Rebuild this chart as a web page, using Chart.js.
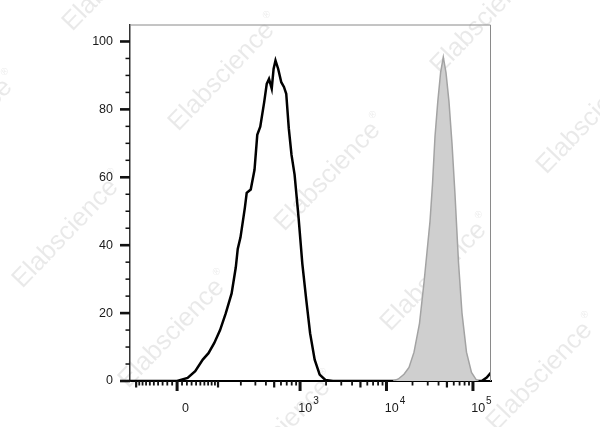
<!DOCTYPE html>
<html>
<head>
<meta charset="utf-8">
<script src="https://cdn.jsdelivr.net/npm/chart.js@4.4.1/dist/chart.umd.min.js"></script>
<style>
  html, body { margin: 0; padding: 0; background: #fff; }
  canvas { display: block; }
</style>
</head>
<body>
<canvas id="histChart" width="600" height="427"></canvas>
<script>
// stained sample (black outline), x = fluorescence intensity, y = % of max
const stainedX = [-122, -60, 0, 2, 21.5, 38, 56, 71, 88, 107, 128, 153, 173,
  183, 198, 224, 236, 264, 293, 316, 343, 382, 409,
  435, 468, 492, 518, 557, 605, 650, 691, 740, 796,
  864, 961, 1063, 1181, 1307, 1477, 1687, 1963, 2403,
  10000, 60000, 126300, 144200, 161700];
const stainedY = [0, 0, 0, 0.1, 0.9, 2.9, 6.3, 8.2, 11.2, 15.0, 19.9, 25.8, 33.5,
  38.9, 42.3, 51.0, 55.4, 56.4, 62.2, 72.5, 74.9, 82.2, 87.5,
  89.0, 86.1, 91.9, 94.4, 91.9, 88.0, 86.6, 84.6, 74.4, 66.6,
  60.8, 48.1, 34.5, 23.8, 14.1, 6.3, 1.9, 0.3, 0,
  0, 0, 0, 1.0, 2.5];

// filled grey peak
const grayX = [12000, 13710, 15950, 18220, 20820, 24100, 27160, 29420, 31870, 34060,
  36400, 39210, 42250, 45400, 48790, 52840, 57230, 61990, 68040, 74680,
  84190, 96170, 108400, 115600];
const grayY = [0, 0.6, 2, 4, 8.5, 17, 29, 38, 47, 58,
  72, 82.3, 90.8, 95.4, 90.8, 82.2, 70, 55, 35, 20,
  8.5, 2.5, 0.5, 0];

// axis ticks
const xMajorTicks = [0, 1000, 10000, 100000];
const xMajorLabels = [["0", ""], ["10", "3"], ["10", "4"], ["10", "5"]];
const xMidTicks = [-100, 100, 500, 5000, 50000];
const xMinorTicks = [-90, -80, -70, -60, -50, -40, -30, -20, -10,
  10, 20, 30, 40, 50, 60, 70, 80, 90,
  200, 300, 400, 600, 700, 800, 900,
  2000, 3000, 4000, 6000, 7000, 8000, 9000,
  20000, 30000, 40000, 60000, 70000, 80000, 90000];
const yLabelStep = 20;
const yMinorStep = 5;

const X_MIN = -122;
const X_MAX = 161700;
const COFACTOR = 75.8;

const FONT = "'Liberation Sans', Arial, sans-serif";

const biex = v => Math.asinh(v / COFACTOR);

class BiexScale extends Chart.Scale {
  determineDataLimits() {
    this.min = this.options.min;
    this.max = this.options.max;
  }
  buildTicks() {
    const all = xMajorTicks.concat(xMidTicks, xMinorTicks)
      .filter(v => v >= this.min && v <= this.max)
      .sort((a, b) => a - b);
    return all.map(v => ({ value: v }));
  }
  configure() {
    super.configure();
    this._t0 = biex(this.min);
    this._t1 = biex(this.max);
  }
  getLabelForValue(v) {
    return String(v);
  }
  getPixelForValue(v) {
    return this.getPixelForDecimal((biex(v) - this._t0) / (this._t1 - this._t0));
  }
  getValueForPixel(p) {
    const t = this._t0 + this.getDecimalForPixel(p) * (this._t1 - this._t0);
    return COFACTOR * Math.sinh(t);
  }
}
BiexScale.id = "biex";
BiexScale.defaults = {};
Chart.register(BiexScale);

const toPoints = (xs, ys) => xs.map((x, i) => ({ x: x, y: ys[i] }));

const watermarkCenters = [
  [119, -27], [-37, 130], [225, 73], [331, 173], [437, 273], [543, 373],
  [487, 16], [593, 116], [69, 230], [175, 330], [281, 430]
];

const watermark = {
  id: "watermark",
  beforeDraw(chart) {
    const ctx = chart.ctx;
    ctx.save();
    ctx.fillStyle = "#fff";
    ctx.fillRect(0, 0, chart.width, chart.height);
    ctx.fillStyle = "rgba(0,0,0,0.085)";
    ctx.textBaseline = "middle";
    watermarkCenters.forEach(c => {
      ctx.save();
      ctx.translate(c[0], c[1]);
      ctx.rotate(-Math.PI / 4 - 0.02);
      ctx.font = "26px " + FONT;
      const w = ctx.measureText("Elabscience").width;
      ctx.textAlign = "left";
      ctx.fillText("Elabscience", -w / 2 - 5, 0);
      ctx.font = "10px " + FONT;
      ctx.fillText("\u00AE", w / 2 - 3, -10);
      ctx.restore();
    });
    ctx.restore();
  }
};

const axisDecor = {
  id: "axisDecor",
  afterDraw(chart) {
    const { ctx, chartArea: a, scales } = chart;
    const x = scales.x, y = scales.y;
    ctx.save();

    // top and right frame
    ctx.strokeStyle = "#8a8a8a";
    ctx.lineWidth = 1;
    ctx.beginPath();
    ctx.moveTo(a.left, a.top + 0.5);
    ctx.lineTo(a.right - 0.5, a.top + 0.5);
    ctx.lineTo(a.right - 0.5, a.bottom);
    ctx.stroke();

    ctx.fillStyle = "#111";
    // y ticks
    y.ticks.forEach((t, i) => {
      if (t.value > 100 || t.value % yMinorStep !== 0) return;
      const py = y.getPixelForTick(i);
      const major = t.value % yLabelStep === 0;
      const len = major ? 10 : 4.5;
      const w = major ? 2.6 : 1.5;
      ctx.fillRect(a.left - len, py - w / 2, len, w);
    });

    // x ticks
    x.ticks.forEach(t => {
      const px = x.getPixelForValue(t.value);
      let len = 4.5, w = 1.8;
      if (xMajorTicks.includes(t.value)) { len = 10; w = 3; }
      else if (xMidTicks.includes(t.value)) { len = 6.5; w = 2.2; }
      ctx.fillRect(px - w / 2, a.bottom, w, len);
    });

    // x labels with superscript exponents
    ctx.fillStyle = "#1a1a1a";
    ctx.textBaseline = "alphabetic";
    ctx.textAlign = "left";
    xMajorTicks.forEach((v, i) => {
      const base = xMajorLabels[i][0], sup = xMajorLabels[i][1];
      ctx.font = "12.5px " + FONT;
      const bw = ctx.measureText(base).width;
      ctx.font = "10px " + FONT;
      const sw = sup ? ctx.measureText(sup).width + 1 : 0;
      const cx = x.getPixelForValue(v) + 8.5;
      const left = cx - (bw + sw) / 2;
      ctx.font = "12.5px " + FONT;
      ctx.fillText(base, left, 411.5);
      if (sup) {
        ctx.font = "10px " + FONT;
        ctx.fillText(sup, left + bw + 1, 403.5);
      }
    });

    ctx.restore();
  }
};

new Chart(document.getElementById("histChart"), {
  type: "line",
  data: {
    datasets: [
      {
        label: "Isotype",
        data: toPoints(grayX, grayY),
        borderColor: "#a3a3a3",
        backgroundColor: "#cfcfcf",
        borderWidth: 1.5,
        fill: "origin",
        pointRadius: 0,
        tension: 0
      },
      {
        label: "Stained",
        data: toPoints(stainedX, stainedY),
        borderColor: "#000",
        borderWidth: 2.5,
        fill: false,
        pointRadius: 0,
        tension: 0
      }
    ]
  },
  options: {
    responsive: false,
    animation: false,
    layout: { padding: { top: 22, right: 109, left: 0, bottom: 0 } },
    plugins: {
      legend: { display: false },
      tooltip: { enabled: false }
    },
    scales: {
      x: {
        type: "biex",
        min: X_MIN,
        max: X_MAX,
        grid: { display: false },
        border: { color: "#000", width: 2 },
        ticks: { display: false, autoSkip: false },
        afterFit: s => { s.height = 46; }
      },
      y: {
        type: "linear",
        min: 0,
        max: 105,
        grid: { display: false, drawTicks: false },
        border: { color: "#333", width: 1.5 },
        ticks: {
          stepSize: yMinorStep,
          autoSkip: false,
          padding: 17,
          color: "#1a1a1a",
          font: { family: FONT, size: 12.5 },
          callback: v => (v % yLabelStep === 0 && v <= 100 ? v : "")
        },
        afterFit: s => { s.height; s.width = 130; }
      }
    }
  },
  plugins: [watermark, axisDecor]
});
</script>
</body>
</html>
